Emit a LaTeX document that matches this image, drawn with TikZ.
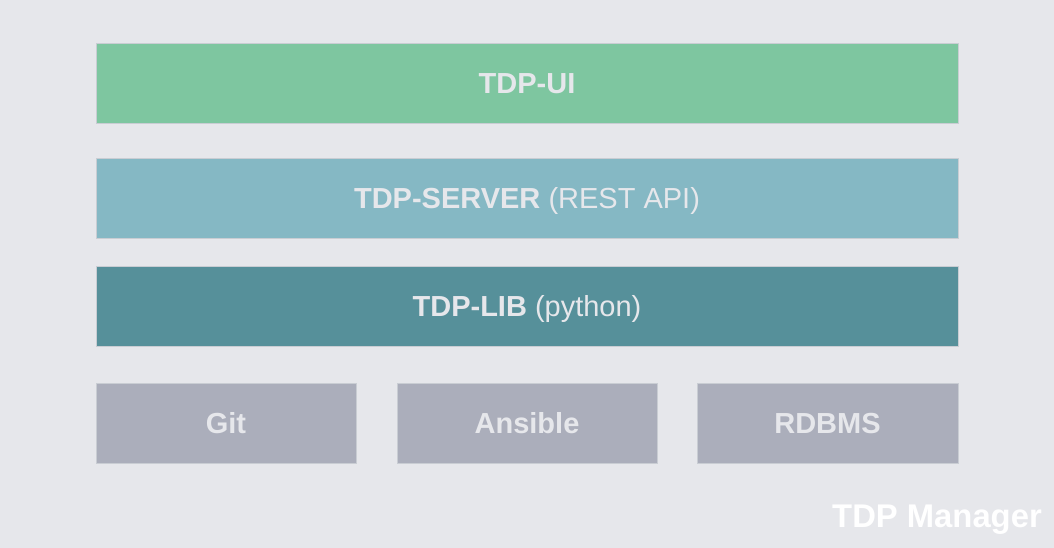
\documentclass[tikz,border=0pt]{standalone}
\usepackage{fontspec}
\setmainfont{Liberation Sans}
\definecolor{bgray}{HTML}{E6E7EB}
\definecolor{uigreen}{HTML}{7EC6A0}
\definecolor{srvblue}{HTML}{85B8C4}
\definecolor{libteal}{HTML}{56909A}
\definecolor{toolgray}{HTML}{ABAEBB}
\definecolor{edgegray}{HTML}{C9CDD3}
\begin{document}
\begin{tikzpicture}[x=1pt,y=-1pt]

      \tikzset{layer/.style={draw=edgegray, line width=0.8pt, inner sep=0pt, minimum height=80pt, text height=20.8pt, text depth=0pt, text=bgray, font=\fontsize{29}{29}\selectfont}}
%% Background
      	\fill[bgray] (0,0) rectangle (1054,548);
      	\useasboundingbox (0,0) rectangle (1054,548);
%% Layers
      	\node[layer, fill=uigreen, minimum width=862pt] (ui) at (527,83.5) {\textbf{TDP-UI}};
      	\node[layer, fill=srvblue, minimum width=862pt] (server) at (527,198) {\textbf{TDP-SERVER} (REST API)};
    	\node[layer, fill=libteal, minimum width=862pt] (lib) at (527,306) {\textbf{TDP-LIB} (python)};
%Tools
  	    \node[layer, fill=toolgray, minimum width=260pt] (git) at (226,423) {\textbf{Git}};
  	    \node[layer, fill=toolgray, minimum width=260pt] (ansible) at (527,423) {\textbf{Ansible}};
  	    \node[layer, fill=toolgray, minimum width=261pt] (rdbms) at (827.5,423) {\textbf{RDBMS}};
%Caption
		\node[anchor=base east, inner sep=0pt, text=white, font=\fontsize{32.8}{33}\selectfont\bfseries] (title) at (1042,527) {TDP Manager};

	\end{tikzpicture}
\end{document}
